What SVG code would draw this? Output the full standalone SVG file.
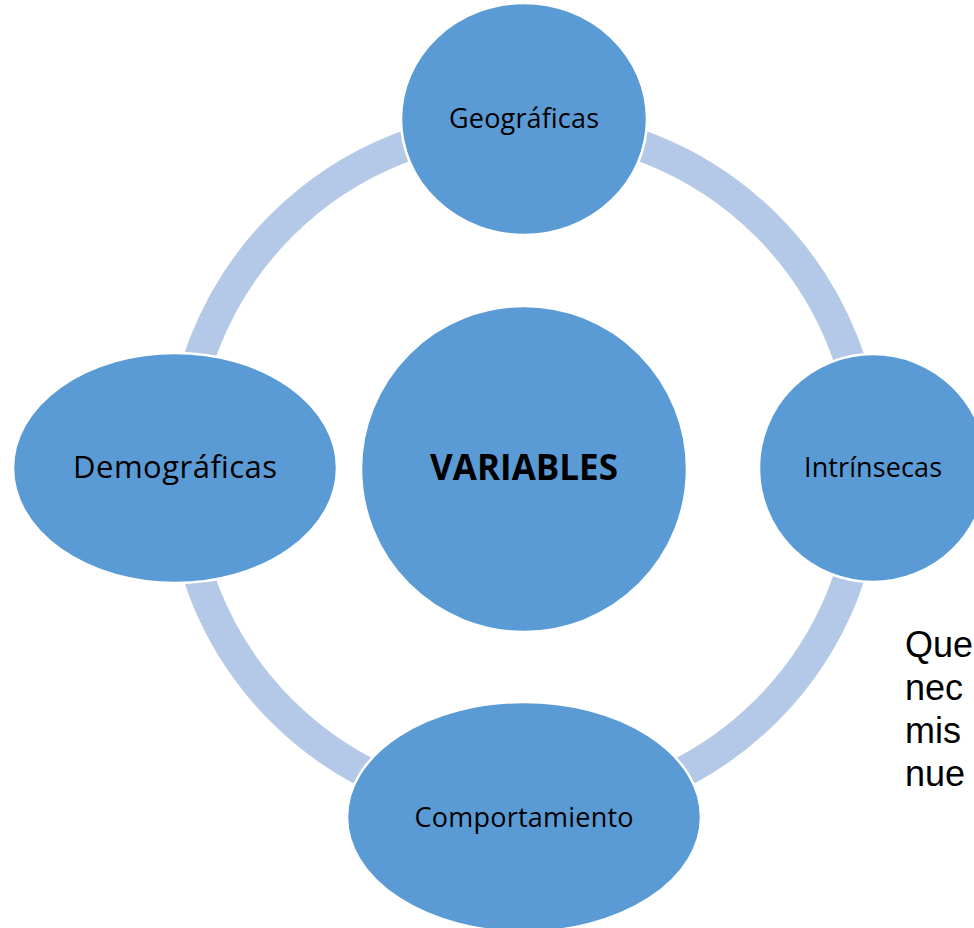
<svg xmlns="http://www.w3.org/2000/svg" width="974" height="928" viewBox="0 0 974 928">
<style>
.node{fill:#5B9BD5;stroke:#FFFFFF;stroke-width:2.5}
.lbl{font-family:"Open Sans","Liberation Sans",sans-serif;fill:#000000;text-anchor:middle}
.side{font-family:"Liberation Sans",Arial,sans-serif;fill:#000000;font-size:36px}
</style>
<rect x="0" y="0" width="974" height="928" fill="#FFFFFF"/>
<g id="connectors">
<circle cx="524" cy="468" r="343" fill="none" stroke="#B4C8E7" stroke-width="31"/>
</g>
<g id="node-variables">
<circle class="node" cx="524" cy="469" r="163"/>
<text class="lbl" x="524" y="480" font-size="35" font-weight="bold" textLength="188">VARIABLES</text>
</g>
<g id="node-geograficas">
<ellipse class="node" cx="524" cy="119" rx="123" ry="116"/>
<text class="lbl" x="524" y="128" font-size="27" textLength="150">Geográficas</text>
</g>
<g id="node-intrinsecas">
<ellipse class="node" cx="873" cy="468" rx="114" ry="114"/>
<text class="lbl" x="873" y="477" font-size="27" textLength="138">Intrínsecas</text>
</g>
<g id="node-comportamiento">
<ellipse class="node" cx="524" cy="817" rx="177" ry="115"/>
<text class="lbl" x="524" y="827" font-size="27" textLength="219">Comportamiento</text>
</g>
<g id="node-demograficas">
<ellipse class="node" cx="175" cy="468" rx="162" ry="115"/>
<text class="lbl" x="175" y="478" font-size="31" textLength="204">Demográficas</text>
</g>
<g id="side-text">
<text class="side" x="905" y="657">Que<tspan x="905" dy="43">nec</tspan><tspan x="905" dy="43">mis</tspan><tspan x="905" dy="43">nue</tspan></text>
</g>
</svg>
